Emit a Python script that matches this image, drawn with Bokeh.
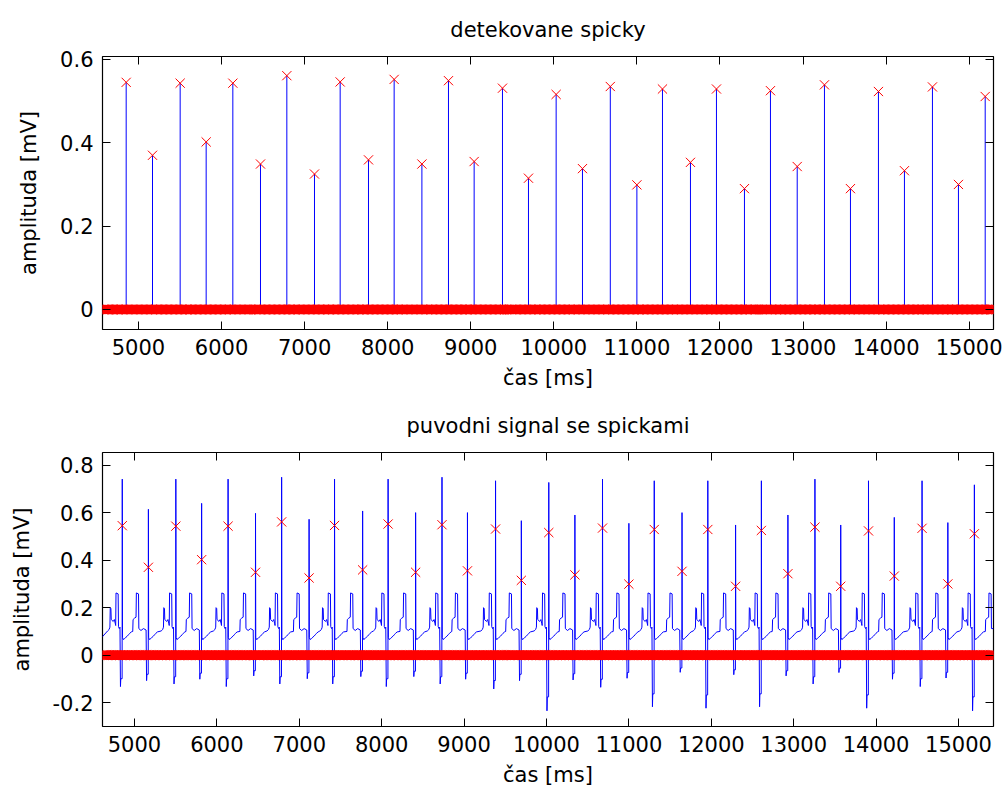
import numpy as np
from bokeh.plotting import figure
from bokeh.layouts import column
from bokeh.models import (Range1d, LinearAxis, FixedTicker, CustomJSTickFormatter,
                          CustomLabelingPolicy)
from bokeh.embed import file_html
from bokeh.resources import INLINE

# ---- data ----
# detected spikes: time [ms] and amplitude [mV]
spike_t = [4852, 5169, 5502, 5815, 6136, 6469, 6786, 7119, 7428, 7769, 8078,
           8412, 8732, 9041, 9382, 9695, 10028, 10345, 10680, 11000, 11308,
           11645, 11958, 12295, 12608, 12930, 13258, 13571, 13908, 14221,
           14558, 14871, 15193]
spike_amp = [0.545, 0.370, 0.543, 0.402, 0.543, 0.349, 0.561, 0.325, 0.546,
             0.359, 0.552, 0.349, 0.549, 0.355, 0.531, 0.315, 0.516, 0.338,
             0.535, 0.299, 0.529, 0.353, 0.529, 0.290, 0.525, 0.343, 0.539,
             0.290, 0.523, 0.333, 0.534, 0.300, 0.511]

# original signal: maximum and minimum of each spike [mV]
sig_peak = [0.741, 0.614, 0.741, 0.639, 0.741, 0.597, 0.749, 0.572, 0.741,
            0.607, 0.741, 0.600, 0.749, 0.600, 0.734, 0.566, 0.727, 0.590,
            0.741, 0.555, 0.734, 0.600, 0.734, 0.548, 0.734, 0.590, 0.741,
            0.548, 0.734, 0.580, 0.734, 0.558, 0.717]
sig_dip = [-0.132, -0.107, -0.121, -0.101, -0.132, -0.087, -0.121, -0.099,
           -0.121, -0.090, -0.132, -0.090, -0.121, -0.101, -0.142, -0.107,
           -0.234, -0.104, -0.135, -0.097, -0.217, -0.072, -0.223, -0.082,
           -0.217, -0.087, -0.121, -0.073, -0.223, -0.101, -0.132, -0.096,
           -0.234]

# shape of the signal between spikes (offsets in ms, values in mV)
post_off = [3, 12, 30, 45, 60, 75, 90, 110]
post_val = [0.075, 0.066, 0.070, 0.076, 0.080, 0.086, 0.092, 0.098]
pre_tall_off = [-178, -160, -150, -146, -138, -134, -110, -96, -84, -80, -76, -50, -46, -36, -28]
pre_tall_val = [0.102, 0.108, 0.118, 0.200, 0.196, 0.150, 0.142, 0.150, 0.132, 0.125, 0.262, 0.258, 0.120, 0.112, 0.118]
pre_short_off = [-190, -186, -168, -150, -146, -120, -116, -90, -60, -28]
pre_short_val = [0.100, 0.150, 0.156, 0.160, 0.262, 0.258, 0.112, 0.104, 0.112, 0.106]
dip_off = [-22, -18, -2]
dip_frac = [1.0, 0.75, 0.75]
start_level = 0.078

sample_step = 6  # ms between samples of the detection vector

top_xlim = (4567, 15293)
bot_xlim = (4612, 15425)
top_ylim = (-0.048, 0.607)
bot_ylim = (-0.300, 0.853)
x_ticks = [5000, 6000, 7000, 8000, 9000, 10000, 11000, 12000, 13000, 14000, 15000]
top_y_ticks = [0, 0.2, 0.4, 0.6]
bot_y_ticks = [-0.2, 0, 0.2, 0.4, 0.6, 0.8]

FONT = "DejaVu Sans"
FS = "21px"
MSIZE = 13
BLUE = "#0000ff"
RED = "#ff0000"

# ---- build series ----
# bottom: original signal
sx = [bot_xlim[0]]
sy = [start_level]


def add(x, y):
    if x > sx[-1]:
        sx.append(x)
        sy.append(y)


for i, t in enumerate(spike_t):
    if i % 2 == 0:
        offs, vals = pre_tall_off, pre_tall_val
    else:
        offs, vals = pre_short_off, pre_short_val
    for o, v in zip(offs, vals):
        add(t + o, v)
    for o, f in zip(dip_off, dip_frac):
        add(t + o, sig_dip[i] * f)
    add(t, sig_peak[i])
    for o, v in zip(post_off, post_val):
        add(t + o, v)
t_next = spike_t[-1] + float(np.mean(np.diff(spike_t)))
offs, vals = (pre_tall_off, pre_tall_val) if len(spike_t) % 2 == 0 else (pre_short_off, pre_short_val)
for o, v in zip(offs, vals):
    if t_next + o <= bot_xlim[1]:
        add(t_next + o, v)
add(bot_xlim[1], sy[-1])

top_zero_t = np.arange(top_xlim[0], top_xlim[1] + sample_step, sample_step)
bot_zero_t = np.arange(bot_xlim[0], bot_xlim[1] + sample_step, sample_step)

yfmt = CustomJSTickFormatter(code="return (Math.round(tick*10)/10).toString();")
no_labels = CustomLabelingPolicy(code="""
for (const i of Array.from(indices)) { indices.unset(i) }
return indices
""")


def make_fig(title, xlim, ylim, yticks, border_top):
    p = figure(width=1007, height=397, output_backend="svg", toolbar_location=None,
               x_range=Range1d(*xlim), y_range=Range1d(*ylim),
               min_border_left=102, min_border_right=14,
               min_border_top=border_top, min_border_bottom=68)
    p.title.text = title
    p.title.text_font = FONT
    p.title.text_font_size = FS
    p.title.text_font_style = "normal"
    p.title.text_color = "black"
    p.title.align = "center"
    p.title.standoff = 22
    p.grid.visible = False
    p.outline_line_color = "black"
    p.outline_line_width = 1.2
    p.background_fill_color = "white"
    p.border_fill_color = "white"

    for ax in p.xaxis:
        ax.ticker = FixedTicker(ticks=x_ticks)
        ax.axis_label = "čas [ms]"
        ax.axis_label_standoff = 8
    for ax in p.yaxis:
        ax.ticker = FixedTicker(ticks=yticks)
        ax.formatter = yfmt
        ax.axis_label = "amplituda [mV]"
        ax.axis_label_standoff = 16
    for ax in list(p.xaxis) + list(p.yaxis):
        ax.axis_label_text_font = FONT
        ax.axis_label_text_font_size = FS
        ax.axis_label_text_font_style = "normal"
        ax.axis_label_text_color = "black"
        ax.major_label_text_font = FONT
        ax.major_label_text_font_size = FS
        ax.major_label_text_color = "black"
        ax.major_label_standoff = 9
        ax.major_tick_in = 8
        ax.major_tick_out = 0
        ax.minor_tick_line_color = None
        ax.axis_line_color = None
        ax.major_tick_line_color = "black"

    top_ax = LinearAxis(ticker=FixedTicker(ticks=x_ticks), major_label_policy=no_labels,
                        major_label_text_font_size="1px",
                        major_tick_in=8, major_tick_out=0, minor_tick_line_color=None,
                        axis_line_color=None, major_label_standoff=0)
    right_ax = LinearAxis(ticker=FixedTicker(ticks=yticks), major_label_policy=no_labels,
                          major_label_text_font_size="1px",
                          major_tick_in=8, major_tick_out=0, minor_tick_line_color=None,
                          axis_line_color=None, major_label_standoff=0)
    p.add_layout(top_ax, "above")
    p.add_layout(right_ax, "right")
    return p


zero_base = [0.0] * len(spike_t)

p1 = make_fig("detekovane spicky", top_xlim, top_ylim, top_y_ticks, 56)
p1.segment(x0=spike_t, y0=zero_base, x1=spike_t, y1=spike_amp, line_color=BLUE, line_width=1)
p1.segment(x0=[top_xlim[0]], y0=[0.0], x1=[top_xlim[1]], y1=[0.0], line_color=BLUE, line_width=1)
p1.scatter(top_zero_t, np.zeros(len(top_zero_t)), marker="x", size=MSIZE,
           line_color=RED, fill_color=None, line_width=1)
p1.scatter(spike_t, spike_amp, marker="x", size=MSIZE, line_color=RED,
           fill_color=None, line_width=1)

p2 = make_fig("puvodni signal se spickami", bot_xlim, bot_ylim, bot_y_ticks, 55)
p2.line(sx, sy, line_color=BLUE, line_width=1)
p2.scatter(bot_zero_t, np.zeros(len(bot_zero_t)), marker="x", size=MSIZE,
           line_color=RED, fill_color=None, line_width=1)
p2.scatter(spike_t, spike_amp, marker="x", size=MSIZE, line_color=RED,
           fill_color=None, line_width=1)

layout = column(p1, p2, spacing=0)
open("out.html", "w").write(file_html(layout, INLINE))
